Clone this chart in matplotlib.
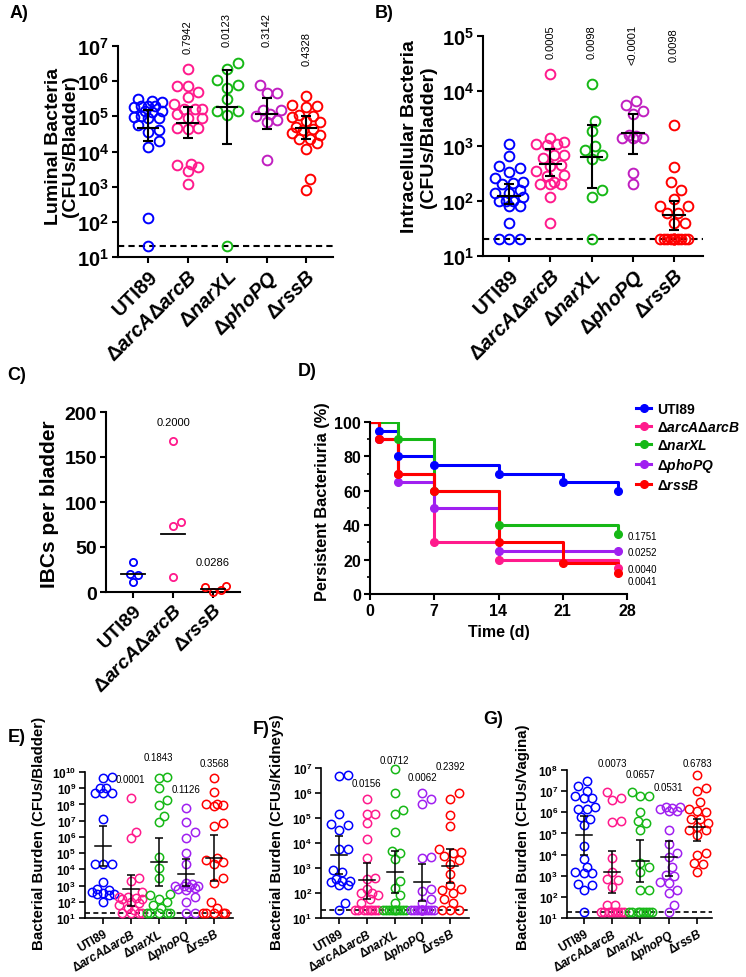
import numpy as np
import matplotlib.pyplot as plt
from matplotlib.lines import Line2D
from matplotlib.ticker import NullLocator, MultipleLocator
from matplotlib.transforms import blended_transform_factory

plt.rcParams['font.family'] = ['Liberation Sans', 'DejaVu Sans']
plt.rcParams['font.weight'] = 'bold'
plt.rcParams['axes.labelweight'] = 'bold'
plt.rcParams['mathtext.fontset'] = 'custom'
plt.rcParams['mathtext.rm'] = 'Liberation Sans:bold'
plt.rcParams['mathtext.it'] = 'Liberation Sans:italic:bold'
plt.rcParams['mathtext.bf'] = 'Liberation Sans:bold'

# ---------------- data ----------------
strains = ['UTI89', r'$\Delta arcA\Delta arcB$', r'$\Delta narXL$', r'$\Delta phoPQ$', r'$\Delta rssB$']
ibc_strains = ['UTI89', r'$\Delta arcA\Delta arcB$', r'$\Delta rssB$']
cols_ab = ['#0000ff', '#ff1a8c', '#16b816', '#c01fc0', '#ff0000']
cols_dg = ['#0000ff', '#ff1a8c', '#16b816', '#a020f0', '#ff0000']

# A) luminal bacteria, median + IQR
lum_vals = [
    [3.2e5, 2.8e5, 2.6e5, 2e5, 2e5, 2e5, 1.9e5, 1.4e5, 1.4e5, 1.3e5, 1e5, 9.5e4, 9e4, 9e4, 5.5e4, 4e4, 3.5e4, 2e4, 1.3e4, 1.3e2, 20],
    [2.2e6, 7.4e5, 7.4e5, 4.8e5, 3.6e5, 2.2e5, 1.65e5, 1.65e5, 1.6e5, 1.15e5, 9e4, 9e4, 4.8e4, 4.6e4, 4.5e4, 4.3e3, 4e3, 3.7e3, 2.7e3, 1.2e3],
    [3.2e6, 2.2e6, 1.1e6, 7.6e5, 6.6e5, 3.2e5, 1.45e5, 1.4e5, 1.1e5, 20],
    [7.6e5, 4.5e5, 4.5e5, 1.5e5, 1.5e5, 1.2e5, 1e5, 7.9e4, 7e4, 5.7e3],
    [3.8e5, 2.1e5, 2e5, 1.9e5, 1.1e5, 1e5, 9.5e4, 7.5e4, 7e4, 5e4, 4.5e4, 4.2e4, 3.3e4, 3e4, 2.3e4, 2.2e4, 1.7e4, 1.2e4, 1.6e3, 8.3e2],
]
lum_med = [4.6e4, 6.6e4, 1.9e5, 1.2e5, 4.7e4]
lum_q1 = [2e4, 2.4e4, 1.6e4, 4.5e4, 2.2e4]
lum_q3 = [1.5e5, 1.8e5, 2.1e6, 3.3e5, 1e5]
lum_p = ['', '0.7942', '0.0123', '0.3142', '0.4328']

# B) intracellular bacteria, median + IQR
ic_vals = [
    [1.07e3, 6.7e2, 4.3e2, 4e2, 3.4e2, 2.6e2, 2.2e2, 2.1e2, 2e2, 1.6e2, 1.4e2, 1.4e2, 1.2e2, 1e2, 1e2, 1e2, 80, 80, 40, 20, 20, 20],
    [2e4, 1.4e3, 1.2e3, 1.1e3, 1.1e3, 1.05e3, 7e2, 7e2, 6e2, 4.5e2, 4.3e2, 3.5e2, 3e2, 2.8e2, 2.2e2, 2e2, 2e2, 2e2, 1.2e2, 40],
    [1.35e4, 2.9e3, 1.9e3, 1e3, 8.5e2, 7e2, 5.8e2, 1.6e2, 1.2e2, 20],
    [6.6e3, 5.5e3, 4.4e3, 3.8e3, 1.6e3, 1.5e3, 1.4e3, 1.4e3, 1.4e3, 3.2e2, 2e2],
    [2.4e3, 4.2e2, 2.2e2, 1.6e2, 1.1e2, 80, 80, 60, 60, 40, 40] + [20] * 12,
]
ic_med = [1.25e2, 4.8e2, 6.4e2, 1.7e3, 55]
ic_q1 = [90, 2.8e2, 1.75e2, 7.2e2, 30]
ic_q3 = [2e2, 8.8e2, 2.4e3, 3.8e3, 1e2]
ic_p = ['', '0.0005', '0.0098', '<0.0001', '0.0098']

# C) IBCs per bladder
ibc_vals = [[33, 20, 19, 11], [168, 78, 73, 17], [6.5, 5.5, 2, 0]]
ibc_med = [20, 65, 3]
ibc_p = ['', '0.2000', '0.0286']

# D) persistent bacteriuria (%)
surv_days = [
    [0, 1, 3, 7, 14, 21, 27],
    [0, 1, 3, 7, 14, 27],
    [0, 3, 7, 14, 27],
    [0, 1, 3, 7, 14, 27],
    [0, 1, 3, 7, 14, 21, 27],
]
surv_pct = [
    [100, 95, 80, 75, 70, 65, 60],
    [100, 90, 70, 30, 20, 15],
    [100, 90, 60, 40, 35],
    [100, 90, 65, 50, 25, 25],
    [100, 90, 70, 60, 30, 18, 12],
]
surv_p = ['0.1751', '0.0252', '0.0040', '0.0041']

# E) bladder burden, mean + SEM
bl_vals = [
    [5e9, 4e9, 1e9, 1e9, 5e8, 5e8, 5e8, 1.2e7, 2e4, 2e4, 2e4, 1.6e3, 6e2, 5e2, 4e2, 3.5e2, 3e2, 3e2, 2.5e2, 1e2],
    [2.5e8, 2e6, 8e5, 3e3, 2e3, 4e2, 2e2, 2e2, 1.8e2, 1.5e2, 1.5e2, 1e2, 80, 60, 40, 30, 20, 20, 20, 20],
    [5e9, 4e9, 1e9, 2e8, 9e7, 2e7, 8e6, 6e4, 1.2e4, 3e3, 3e2, 2.5e2, 1.5e2, 1e2, 60, 40, 20, 20, 20, 20, 20],
    [6e7, 8e6, 2e6, 9e5, 1e5, 2e4, 1.5e3, 1.2e3, 1e3, 9e2, 9e2, 8e2, 7e2, 6e2, 5e2, 2e2, 1e2, 20, 20],
    [4e9, 6e8, 1e8, 1e8, 9e7, 8e7, 7e6, 5e6, 5e4, 4e4, 3e4, 2e4, 3e3, 1.5e3, 1e2, 40, 20, 20, 20, 20, 20],
]
bl_mean = [2.6e5, 6.2e2, 3e4, 5.5e3, 5e4]
bl_lo = [1.5e4, 57, 9e2, 9e2, 2e3]
bl_hi = [4.4e6, 4.5e3, 8e5, 4.5e4, 1.3e6]
bl_p = ['', '0.0001', '0.1843', '0.1126', '0.3568']

# F) kidney burden, mean + SEM
kd_vals = [
    [5.3e6, 4.9e6, 1.5e5, 6e4, 5.3e4, 3.4e4, 5.8e3, 5.8e3, 8e2, 7e2, 3.6e2, 3e2, 3e2, 2.8e2, 2e2, 2e2, 40, 20],
    [6e5, 1.5e5, 1.5e5, 6.5e4, 1.4e4, 2.4e3, 4e2, 3.5e2, 1.5e2, 1e2, 1e2, 80, 60, 40] + [20] * 8,
    [9e6, 1e6, 2e5, 1.5e5, 2.8e4, 5e3, 4e3, 2.2e3, 3e2, 1.6e2, 80, 40] + [20] * 10,
    [1e6, 6e5, 3.5e5, 2.7e3, 2.5e3, 1.4e2, 1.2e2, 60, 40] + [20] * 12,
    [1e6, 6e5, 1.3e5, 5e4, 5.5e3, 4.5e3, 4e3, 3e3, 2e3, 1.5e3, 6e2, 2e2, 1.5e2, 1.3e2, 1e2, 60, 40, 20, 20, 20],
]
kd_mean = [3.3e3, 3.2e2, 7e2, 2.7e2, 1.2e3]
kd_lo = [5.7e2, 60, 1e2, 50, 2.5e2]
kd_hi = [1.9e4, 1.6e3, 5e3, 1.5e3, 5.5e3]
kd_p = ['', '0.0156', '0.0712', '0.0062', '0.2392']

# G) vaginal burden, mean + SEM
vg_vals = [
    [3e7, 1.8e7, 1e7, 6e6, 5e6, 5e6, 1.8e6, 1.5e6, 1.4e6, 6e5, 5e5, 2.5e5, 2.5e4, 6e3, 2.5e3, 1.5e3, 1.3e3, 1.3e3, 4e2, 3.5e2, 2e2, 20],
    [9e6, 5e6, 4e6, 4e5, 3.5e5, 7e3, 1.5e3, 7e2, 6e2, 3e2, 40, 40] + [20] * 8,
    [9e6, 6e6, 6e6, 1e6, 4e5, 3e5, 1.5e5, 4e3, 2.5e3, 1.5e3, 2e2, 2e2] + [20] * 8,
    [1.8e6, 1.8e6, 1.6e6, 1.4e6, 1.2e6, 1.1e6, 1.5e5, 3e4, 1.2e4, 8e3, 2.5e3, 1.1e3, 1e3, 5e2, 4.5e2, 2e2, 1.5e2, 40, 20],
    [6e7, 1.4e7, 1e7, 3e6, 1.4e6, 1.2e6, 1e6, 5e5, 5e5, 3e5, 2e5, 1.5e5, 1.4e5, 8e4, 1.2e4, 1e4, 4e3, 3.5e3, 1.5e3],
]
vg_mean = [8e4, 1.5e3, 5e3, 7.5e3, 2e5]
vg_lo = [1e4, 1.5e2, 5e2, 1e3, 4.5e4]
vg_hi = [6.5e5, 1.5e4, 5e4, 4.5e4, 5e5]
vg_p = ['', '0.0073', '0.0657', '0.0531', '0.6783']

# ---------------- layout helpers (pixel boxes) ----------------
W, H = 746, 978
fig = plt.figure(figsize=(W / 100, H / 100), dpi=100)


def box(l, t, r, b):
    return [l / W, 1 - b / H, (r - l) / W, (b - t) / H]


def fy(y):
    return 1 - y / H


def style(ax, lw, tlen, size):
    for s in ['top', 'right']:
        ax.spines[s].set_visible(False)
    for s in ['left', 'bottom']:
        ax.spines[s].set_linewidth(lw)
    ax.tick_params(width=lw, length=tlen, labelsize=size, direction='out', pad=2)


def swarm(ax, pos, vals, diam, half):
    # simple beeswarm in pixel space so circles sit side by side like Prism
    pts = ax.transData.transform(np.column_stack([np.full(len(vals), pos), vals]))
    ux = ax.transData.transform([(pos + 1, vals[0])])[0][0] - pts[0][0]
    step = diam / 3
    cands = [0.0]
    k = 1
    while k * step <= half:
        cands += [k * step, -k * step]
        k += 1
    placed = []
    offs = np.zeros(len(vals))
    for i in np.argsort(pts[:, 1]):
        y = pts[i, 1]
        best, bestd = 0.0, -1
        for c in cands:
            d = min([np.hypot(c - px, y - py) for px, py in placed], default=1e9)
            if d >= diam:
                best = c
                break
            if d > bestd:
                bestd, best = d, c
        placed.append((best, y))
        offs[i] = best
    return pos + offs / ux


def log_panel(ax, vals, center, lo, hi, cols, top, labels, p, ptop, psize, prot,
              ms, mew, diam, half, hl, cap, lw, tsize, xsize, xrot, slw):
    ax.set_yscale('log')
    ax.set_ylim(10, 10 ** top)
    ax.set_yticks([10 ** k for k in range(1, top + 1)])
    ax.set_yticklabels([r'$10^{%d}$' % k for k in range(1, top + 1)])
    ax.yaxis.set_minor_locator(NullLocator())
    ax.axhline(20, color='k', lw=slw, ls=(0, (3, 2)), zorder=1)
    for i, v in enumerate(vals):
        xs = swarm(ax, i, v, diam, half)
        ax.plot(xs, v, 'o', mfc='none', mec=cols[i], ms=ms, mew=mew, clip_on=False, zorder=3)
        ax.plot([i - hl, i + hl], [center[i]] * 2, color='k', lw=lw, zorder=4)
        ax.errorbar(i, center[i], yerr=[[center[i] - lo[i]], [hi[i] - center[i]]],
                    fmt='none', ecolor='k', elinewidth=lw, capsize=cap, capthick=lw, zorder=4)
    ax.set_xticks(range(len(vals)))
    ax.set_xticklabels(labels, rotation=xrot, ha='right', rotation_mode='anchor', fontsize=xsize)
    style(ax, slw, 4.5, tsize)
    tr = blended_transform_factory(ax.transData, fig.transFigure)
    for i, s in enumerate(p):
        if s:
            if prot:
                ax.text(i, fy(ptop[i]), s, transform=tr, rotation=90, ha='center', va='top',
                        fontsize=psize, fontweight='normal')
            else:
                ax.text(i, fy(ptop[i]), s, transform=tr, ha='center', va='center',
                        fontsize=psize, fontweight='normal')


def vlabel(lines, xs, yc, size):
    for s, xp in zip(lines, xs):
        fig.text(xp / W, fy(yc), s, rotation=90, ha='center', va='center', fontsize=size)


# ---------------- A ----------------
axA = fig.add_axes(box(118, 47, 333, 258))
axA.set_xlim(-0.76, 4.68)
log_panel(axA, lum_vals, lum_med, lum_q1, lum_q3, cols_ab, 7, strains, lum_p,
          [0, 20, 13, 13, 32], 8, True, 7, 1.4, 10.5, 14, 0.26, 3.6, 1.5, 14.5, 14.5, 45, 1.5)
vlabel(['Luminal Bacteria', '(CFUs/Bladder)'], [54, 71], 146, 14)

# ---------------- B ----------------
axB = fig.add_axes(box(483, 37, 703, 257))
axB.set_xlim(-0.63, 4.7)
log_panel(axB, ic_vals, ic_med, ic_q1, ic_q3, cols_ab, 5, strains, ic_p,
          [0, 25, 25, 25, 28], 8, True, 7, 1.4, 10.5, 14, 0.26, 3.6, 1.5, 14.5, 14.5, 45, 1.5)
vlabel(['Intracellular Bacteria', '(CFUs/Bladder)'], [410, 428], 137, 14)

# ---------------- C ----------------
axC = fig.add_axes(box(106, 413, 240, 593))
axC.set_xlim(-0.675, 2.675)
axC.set_ylim(0, 200)
for i, v in enumerate(ibc_vals):
    xs = swarm(axC, i, v, 8, 14)
    axC.plot(xs, v, 'o', mfc='none', mec=[cols_ab[0], cols_ab[1], cols_ab[4]][i], ms=5.2,
             mew=1.3, clip_on=False, zorder=3)
    axC.plot([i - 0.3, i + 0.3], [ibc_med[i]] * 2, color='k', lw=1.3, zorder=4)
axC.set_yticks([0, 50, 100, 150, 200])
axC.set_xticks(range(3))
axC.set_xticklabels(ibc_strains, rotation=45, ha='right', rotation_mode='anchor', fontsize=14.5)
style(axC, 1.5, 4.5, 14)
trC = blended_transform_factory(axC.transData, fig.transFigure)
for i, s in enumerate(ibc_p):
    if s:
        axC.text(i, fy([0, 423, 563][i]), s, transform=trC, ha='center', va='center',
                 fontsize=8, fontweight='normal')
vlabel(['IBCs per bladder'], [50], 504, 15)

# ---------------- D ----------------
axD = fig.add_axes(box(370, 423, 627, 595))
axD.set_xlim(0, 28)
axD.set_ylim(0, 100)
order = [0, 2, 1, 3, 4]
for i in order:
    axD.step(surv_days[i], surv_pct[i], where='post', color=cols_dg[i], lw=2.2, zorder=2 + i * 0.1)
    axD.plot(surv_days[i][1:], surv_pct[i][1:], 'o', color=cols_dg[i], ms=5.5, zorder=3 + i * 0.1,
             clip_on=False)
axD.set_xticks([0, 7, 14, 21, 28])
axD.set_yticks([0, 20, 40, 60, 80, 100])
axD.yaxis.set_minor_locator(MultipleLocator(10))
style(axD, 1.5, 4.5, 11.5)
axD.tick_params(which='minor', length=2.5, width=1.2)
axD.set_xlabel('Time (d)', fontsize=11.5, fontweight='bold', labelpad=4)
vlabel(['Persistent Bacteriuria (%)'], [323], 502, 11.8)
for s, yp in zip(surv_p, [537, 553, 570, 582]):
    fig.text(628 / W, fy(yp), s, ha='left', va='center', fontsize=7, fontweight='normal')
handles = [Line2D([], [], color=c, lw=2.2, marker='o', ms=5.5) for c in cols_dg]
fig.legend(handles, strains, loc='upper left', bbox_to_anchor=(636 / W, fy(403)), frameon=False,
           fontsize=10, handlelength=1.1, handletextpad=0.4, labelspacing=0.28, borderaxespad=0,
           borderpad=0)

# ---------------- E, F, G ----------------
axE = fig.add_axes(box(85, 773, 233, 919))
axE.set_xlim(-0.65, 4.68)
log_panel(axE, bl_vals, bl_mean, bl_lo, bl_hi, cols_dg, 10, strains, bl_p,
          [0, 780, 758, 790, 764], 7, False, 6, 1.1, 8.5, 12, 0.29, 2.8, 1.1, 8.5, 11, 30, 1.2)
axF = fig.add_axes(box(321, 769, 469, 919))
axF.set_xlim(-0.65, 4.68)
log_panel(axF, kd_vals, kd_mean, kd_lo, kd_hi, cols_dg, 7, strains, kd_p,
          [0, 784, 761, 778, 767], 7, False, 6, 1.1, 8.5, 12, 0.29, 2.8, 1.1, 8.5, 11, 30, 1.2)
axG = fig.add_axes(box(567, 771, 712, 919))
axG.set_xlim(-0.6, 4.53)
log_panel(axG, vg_vals, vg_mean, vg_lo, vg_hi, cols_dg, 8, strains, vg_p,
          [0, 764, 775, 788, 764], 7, False, 6, 1.1, 8.5, 12, 0.29, 2.8, 1.1, 8.5, 11, 30, 1.2)
for xp, lab in [(39, 'Bacterial Burden (CFUs/Bladder)'), (277, 'Bacterial Burden (CFUs/Kidneys)'),
                (523, 'Bacterial Burden (CFUs/Vagina)')]:
    fig.text(xp / W, fy(950), lab, rotation=90, ha='center', va='bottom', fontsize=10.8)

# panel letters
for lab, xp, yp in [('A)', 19, 14), ('B)', 384, 14), ('C)', 17, 376), ('D)', 307, 372),
                    ('E)', 17, 737), ('F)', 261, 729), ('G)', 493, 720)]:
    fig.text(xp / W, fy(yp), lab, ha='center', va='center', fontsize=13)

fig.savefig('out.png', dpi=100)
